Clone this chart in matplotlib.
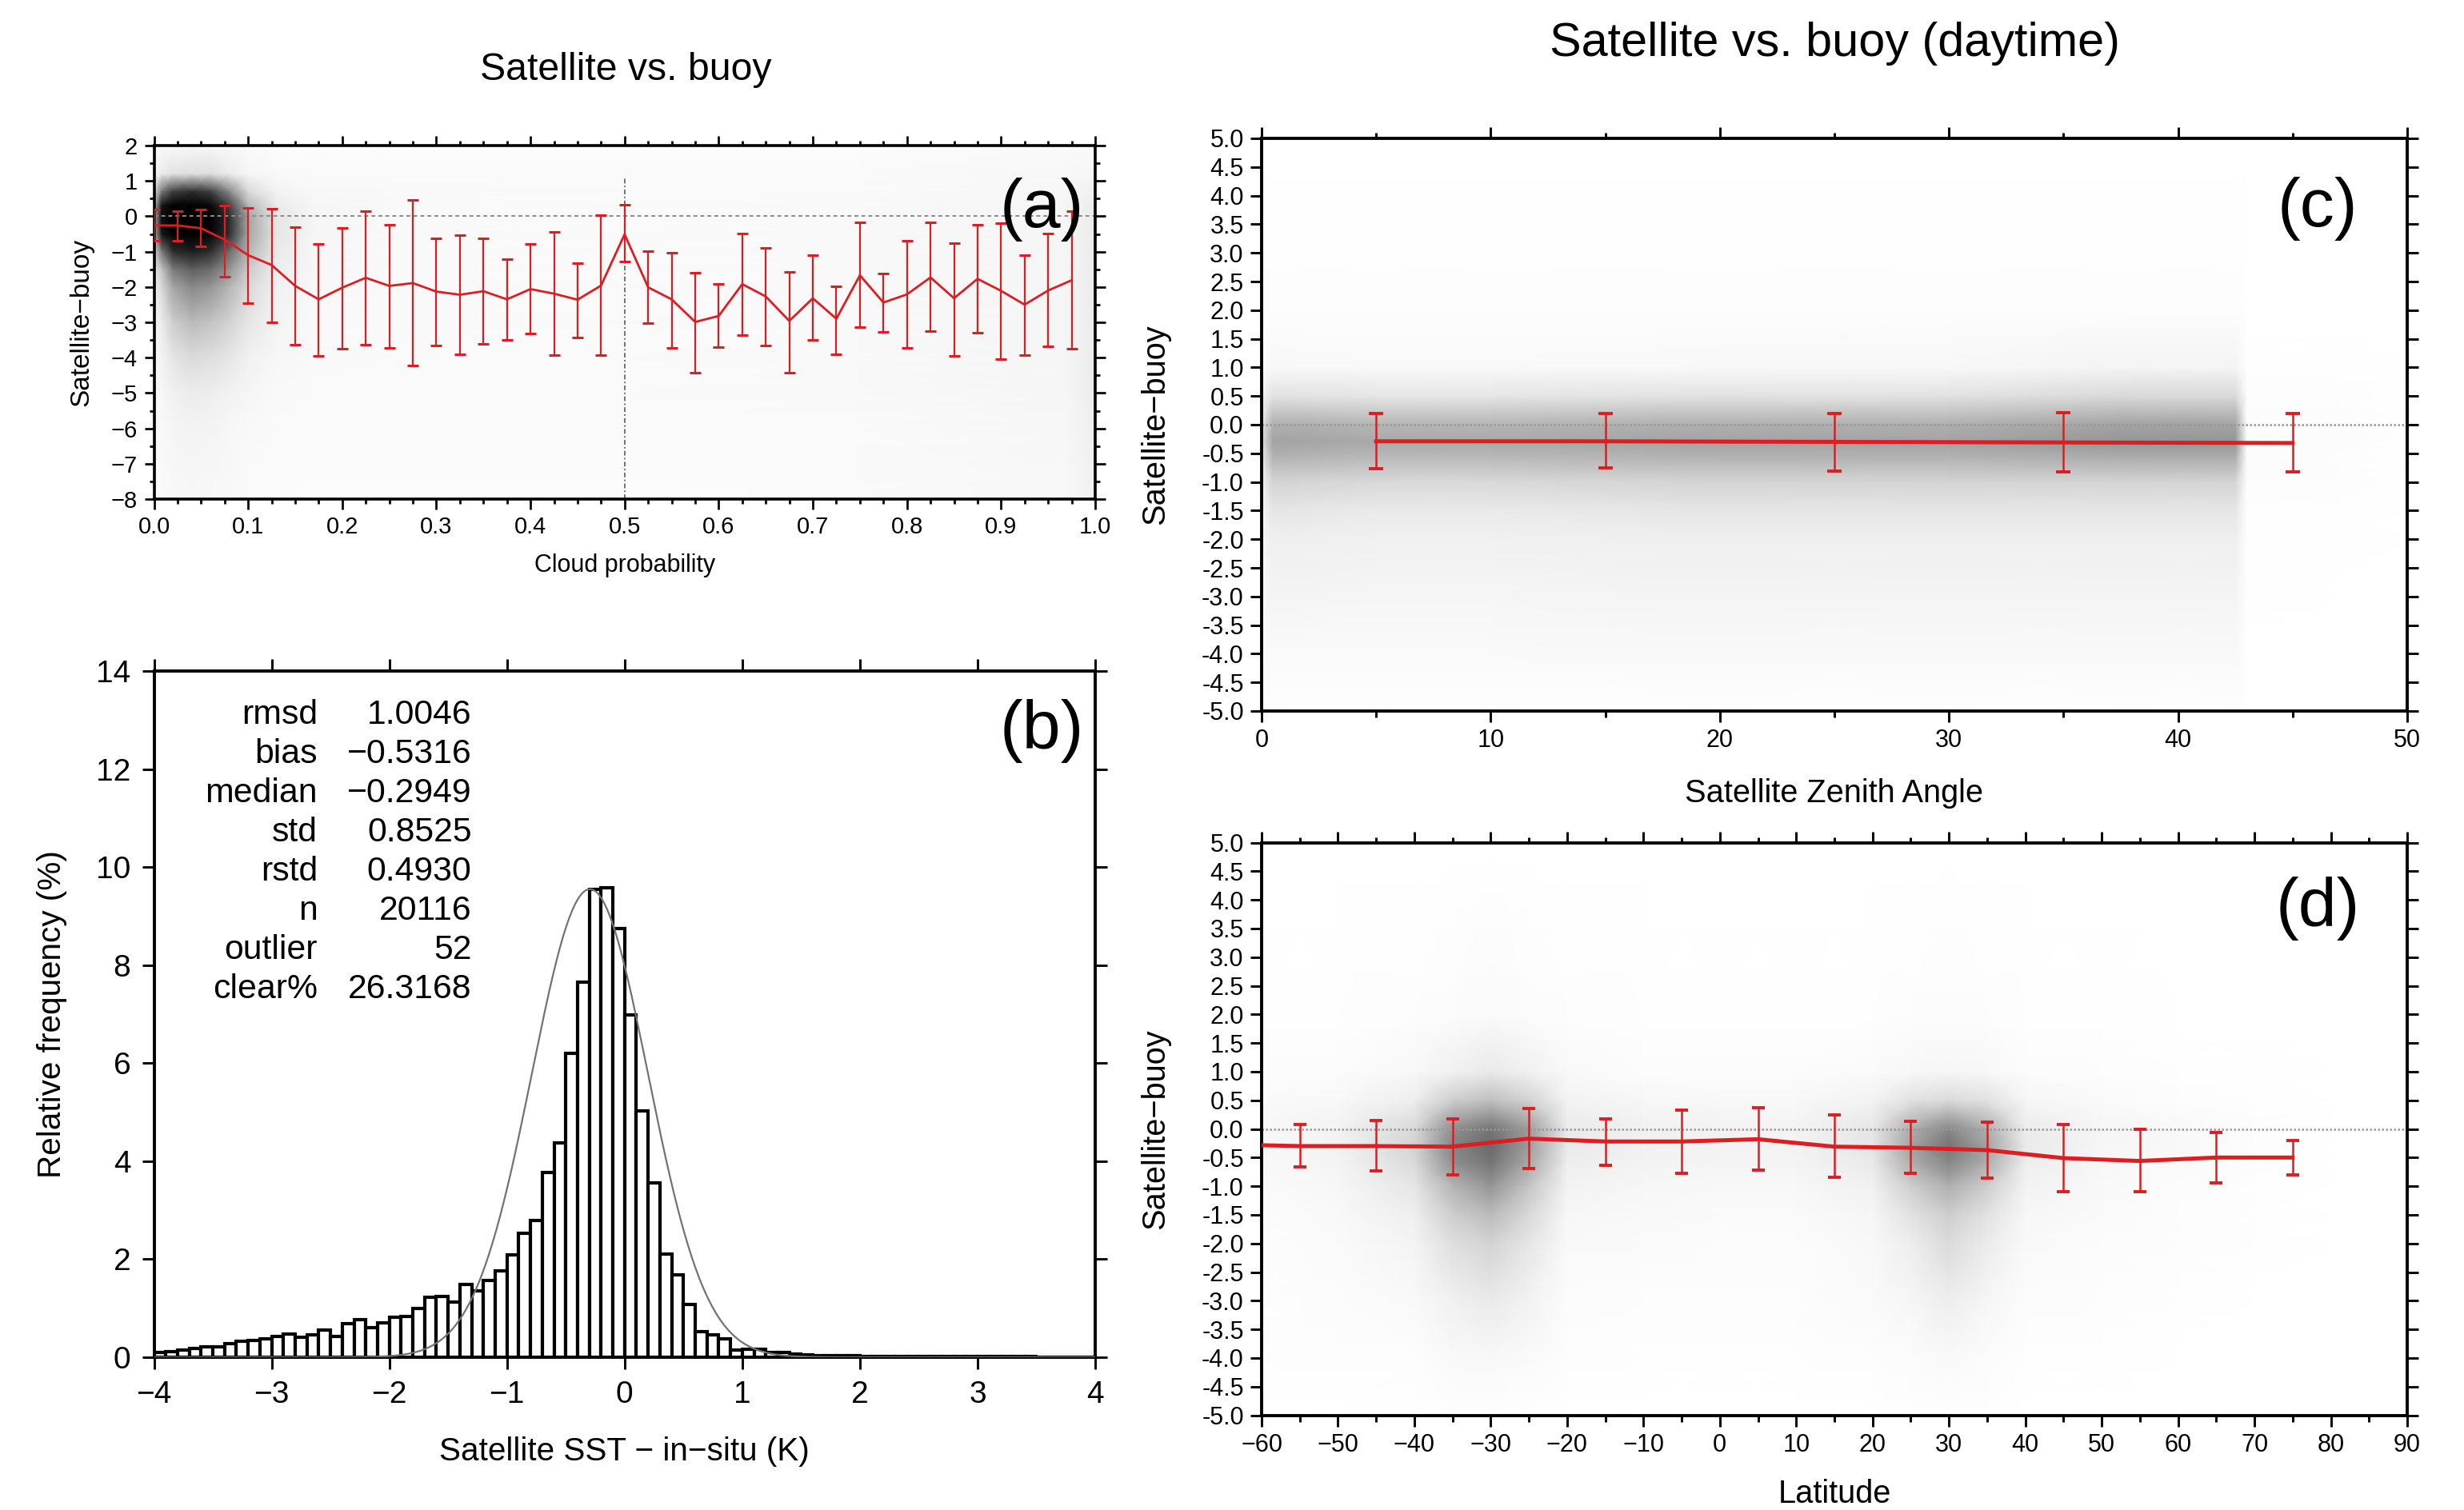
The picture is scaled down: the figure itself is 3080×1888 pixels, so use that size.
import numpy as np
import matplotlib
matplotlib.use("Agg")
import matplotlib.pyplot as plt
from matplotlib import font_manager

# ---------------- data ----------------
# (a) binned statistics vs cloud probability
cloud_x = [0.0, 0.025, 0.05, 0.075, 0.1, 0.125, 0.15, 0.175, 0.2, 0.225,
           0.25, 0.275, 0.3, 0.325, 0.35, 0.375, 0.4, 0.425, 0.45, 0.475,
           0.5, 0.525, 0.55, 0.575, 0.6, 0.625, 0.65, 0.675, 0.7, 0.725,
           0.75, 0.775, 0.8, 0.825, 0.85, 0.875, 0.9, 0.925, 0.95, 0.975]
cloud_mean = [-0.26, -0.26, -0.34, -0.66, -1.10, -1.38, -1.97, -2.35, -2.02, -1.74,
              -1.97, -1.89, -2.13, -2.22, -2.12, -2.35, -2.06, -2.19, -2.36, -1.96,
              -0.51, -2.01, -2.35, -2.99, -2.82, -1.92, -2.27, -2.96, -2.32, -2.90,
              -1.67, -2.44, -2.21, -1.73, -2.32, -1.77, -2.11, -2.50, -2.10, -1.81]
cloud_hi = [0.20, 0.15, 0.18, 0.31, 0.24, 0.22, -0.30, -0.78, -0.32, 0.15,
            -0.23, 0.47, -0.63, -0.54, -0.62, -1.21, -0.78, -0.44, -1.32, 0.03,
            0.33, -0.99, -1.03, -1.59, -1.92, -0.48, -0.90, -1.57, -1.11, -1.98,
            -0.17, -1.61, -0.69, -0.17, -0.76, -0.23, -0.19, -1.10, -0.49, 0.15]
cloud_lo = [-0.70, -0.70, -0.85, -1.71, -2.46, -3.01, -3.63, -3.94, -3.74, -3.63,
            -3.72, -4.22, -3.66, -3.91, -3.60, -3.50, -3.32, -3.92, -3.43, -3.92,
            -1.27, -3.02, -3.72, -4.42, -3.71, -3.36, -3.65, -4.42, -3.50, -3.91,
            -3.13, -3.27, -3.72, -3.26, -3.94, -3.30, -4.05, -3.93, -3.68, -3.75]
cloud_col_x = 0.5      # dense column of points at cloud probability 0.5
cloud_col_top = 1.1

# (a) scatter density (ink fraction) on a coarse node grid
dens_a_x = [0, 0.008, 0.02, 0.04, 0.06, 0.08, 0.1, 0.13, 0.17, 0.25, 0.5, 0.75, 0.97, 1.0]
dens_a_y = [2, 1.2, 0.7, 0.3, 0, -0.5, -1, -1.5, -2, -3, -4, -5, -6, -8]
dens_a = [
    [0.03, 0.04, 0.05, 0.06, 0.06, 0.05, 0.04, 0.03, 0.03, 0.03, 0.03, 0.03, 0.04, 0.05],
    [0.06, 0.15, 0.20, 0.22, 0.22, 0.15, 0.08, 0.05, 0.04, 0.04, 0.04, 0.04, 0.06, 0.08],
    [0.20, 0.60, 0.80, 0.85, 0.80, 0.55, 0.25, 0.10, 0.06, 0.05, 0.04, 0.04, 0.07, 0.12],
    [0.35, 0.92, 1.00, 1.00, 0.98, 0.80, 0.40, 0.15, 0.08, 0.05, 0.04, 0.05, 0.08, 0.15],
    [0.40, 0.95, 1.00, 1.00, 1.00, 0.85, 0.45, 0.18, 0.08, 0.05, 0.04, 0.05, 0.08, 0.15],
    [0.35, 0.92, 1.00, 1.00, 0.98, 0.85, 0.45, 0.18, 0.08, 0.05, 0.04, 0.05, 0.08, 0.15],
    [0.25, 0.60, 0.85, 0.90, 0.85, 0.65, 0.40, 0.16, 0.07, 0.05, 0.04, 0.05, 0.08, 0.15],
    [0.15, 0.35, 0.60, 0.70, 0.65, 0.50, 0.32, 0.14, 0.07, 0.05, 0.04, 0.05, 0.08, 0.15],
    [0.10, 0.25, 0.45, 0.55, 0.50, 0.40, 0.25, 0.12, 0.06, 0.05, 0.04, 0.05, 0.08, 0.15],
    [0.07, 0.15, 0.30, 0.38, 0.35, 0.28, 0.18, 0.09, 0.05, 0.05, 0.04, 0.05, 0.08, 0.15],
    [0.05, 0.10, 0.18, 0.24, 0.22, 0.18, 0.12, 0.07, 0.05, 0.04, 0.04, 0.05, 0.08, 0.15],
    [0.04, 0.07, 0.12, 0.15, 0.14, 0.11, 0.08, 0.05, 0.04, 0.04, 0.04, 0.05, 0.08, 0.15],
    [0.03, 0.05, 0.08, 0.10, 0.09, 0.07, 0.05, 0.04, 0.04, 0.04, 0.04, 0.04, 0.07, 0.13],
    [0.03, 0.04, 0.06, 0.07, 0.06, 0.05, 0.04, 0.04, 0.03, 0.03, 0.03, 0.04, 0.06, 0.12],
]

# (b) histogram (relative frequency %, bins of 0.1 K from -4 to 4)
hist_start, hist_width = -4.0, 0.1
hist_freq = [0.09, 0.11, 0.15, 0.18, 0.21, 0.22, 0.27, 0.33, 0.34, 0.38,
             0.43, 0.48, 0.40, 0.45, 0.55, 0.42, 0.68, 0.76, 0.61, 0.70,
             0.82, 0.83, 0.99, 1.22, 1.24, 1.12, 1.49, 1.35, 1.57, 1.76,
             2.09, 2.53, 2.79, 3.77, 4.38, 6.20, 7.66, 9.54, 9.58, 8.75,
             6.98, 5.02, 3.56, 2.11, 1.68, 1.08, 0.53, 0.45, 0.37, 0.14,
             0.16, 0.16, 0.10, 0.09, 0.07, 0.05, 0.04, 0.04, 0.03, 0.03,
             0.02, 0.02, 0.02, 0.02, 0.02, 0.02, 0.01, 0.01, 0.01, 0.01,
             0.01, 0.01, 0.01, 0.01, 0.01, 0.005, 0.005, 0.005, 0.005, 0.005]
stat_names = ["rmsd", "bias", "median", "std", "rstd", "n", "outlier", "clear%"]
stat_values = ["1.0046", "\u22120.5316", "\u22120.2949", "0.8525", "0.4930",
               "20116", "52", "26.3168"]
gauss_center = -0.2949   # median
gauss_sigma = 0.4930     # rstd
gauss_peak = 9.55

# (c) binned statistics vs satellite zenith angle
zen_x = [5, 15, 25, 35, 45]
zen_mean = [-0.29, -0.29, -0.30, -0.31, -0.32]
zen_hi = [0.19, 0.19, 0.20, 0.21, 0.20]
zen_lo = [-0.77, -0.75, -0.81, -0.82, -0.83]

dens_c_x = [0, 0.5, 5, 10, 20, 30, 38, 42.5, 43, 47, 50]
dens_c_y = [5, 2, 1, 0.5, 0, -0.3, -0.6, -1, -1.5, -2, -3, -4, -5]
dens_c = [
    [0.00, 0.00, 0.00, 0.00, 0.00, 0.00, 0.00, 0.00, 0.00, 0.00, 0.00],
    [0.01, 0.02, 0.02, 0.02, 0.02, 0.02, 0.02, 0.02, 0.00, 0.00, 0.00],
    [0.03, 0.06, 0.05, 0.05, 0.06, 0.06, 0.09, 0.09, 0.01, 0.01, 0.00],
    [0.09, 0.20, 0.18, 0.18, 0.20, 0.20, 0.25, 0.25, 0.02, 0.02, 0.00],
    [0.18, 0.42, 0.40, 0.40, 0.42, 0.42, 0.46, 0.46, 0.03, 0.03, 0.00],
    [0.20, 0.46, 0.44, 0.44, 0.46, 0.46, 0.50, 0.50, 0.03, 0.03, 0.00],
    [0.17, 0.40, 0.38, 0.38, 0.40, 0.40, 0.42, 0.42, 0.03, 0.02, 0.00],
    [0.12, 0.27, 0.25, 0.25, 0.27, 0.27, 0.27, 0.27, 0.02, 0.02, 0.00],
    [0.08, 0.18, 0.16, 0.16, 0.18, 0.18, 0.18, 0.18, 0.01, 0.01, 0.00],
    [0.06, 0.13, 0.12, 0.12, 0.13, 0.13, 0.13, 0.13, 0.01, 0.01, 0.00],
    [0.04, 0.09, 0.08, 0.08, 0.09, 0.09, 0.09, 0.09, 0.01, 0.00, 0.00],
    [0.02, 0.04, 0.04, 0.04, 0.05, 0.05, 0.05, 0.05, 0.00, 0.00, 0.00],
    [0.00, 0.01, 0.01, 0.01, 0.01, 0.01, 0.01, 0.01, 0.00, 0.00, 0.00],
]

# (d) binned statistics vs latitude
lat_x = [-65, -55, -45, -35, -25, -15, -5, 5, 15, 25, 35, 45, 55, 65, 75]
lat_mean = [-0.27, -0.30, -0.30, -0.31, -0.17, -0.22, -0.22, -0.18, -0.31, -0.33,
            -0.37, -0.51, -0.56, -0.50, -0.50]
lat_hi = [np.nan, 0.07, 0.15, 0.18, 0.36, 0.18, 0.33, 0.37, 0.24, 0.13,
          0.12, 0.08, -0.01, -0.06, -0.20]
lat_lo = [np.nan, -0.67, -0.73, -0.80, -0.69, -0.64, -0.78, -0.72, -0.85, -0.78,
          -0.86, -1.09, -1.10, -0.94, -0.81]

dens_d_x = [-60, -50, -40, -35, -30, -25, -20, -10, 0, 10, 20, 25, 30, 35, 40, 50, 60, 70, 80, 90]
dens_d_y = [5, 2, 1, 0.5, 0, -0.3, -0.6, -1, -1.5, -2, -3, -4, -5]
dens_d = [
    [0.00, 0.00, 0.00, 0.00, 0.00, 0.00, 0.00, 0.00, 0.00, 0.00, 0.00, 0.00, 0.00, 0.00, 0.00, 0.00, 0.00, 0.00, 0.00, 0.00],
    [0.01, 0.01, 0.02, 0.03, 0.04, 0.03, 0.02, 0.01, 0.01, 0.01, 0.01, 0.02, 0.03, 0.02, 0.01, 0.01, 0.00, 0.00, 0.00, 0.00],
    [0.02, 0.03, 0.06, 0.12, 0.16, 0.12, 0.05, 0.03, 0.03, 0.03, 0.04, 0.06, 0.08, 0.06, 0.03, 0.02, 0.01, 0.01, 0.00, 0.00],
    [0.04, 0.06, 0.14, 0.30, 0.36, 0.28, 0.10, 0.07, 0.06, 0.06, 0.10, 0.20, 0.24, 0.20, 0.08, 0.04, 0.02, 0.01, 0.00, 0.00],
    [0.06, 0.10, 0.25, 0.52, 0.62, 0.48, 0.16, 0.12, 0.10, 0.10, 0.18, 0.42, 0.55, 0.42, 0.15, 0.08, 0.05, 0.02, 0.00, 0.00],
    [0.06, 0.10, 0.27, 0.56, 0.66, 0.48, 0.16, 0.12, 0.10, 0.10, 0.18, 0.46, 0.62, 0.46, 0.16, 0.08, 0.05, 0.02, 0.00, 0.00],
    [0.05, 0.09, 0.24, 0.52, 0.62, 0.44, 0.14, 0.10, 0.09, 0.09, 0.16, 0.42, 0.55, 0.42, 0.14, 0.07, 0.04, 0.02, 0.00, 0.00],
    [0.04, 0.07, 0.18, 0.40, 0.50, 0.34, 0.10, 0.07, 0.06, 0.06, 0.12, 0.30, 0.42, 0.30, 0.10, 0.05, 0.03, 0.01, 0.00, 0.00],
    [0.03, 0.05, 0.13, 0.30, 0.38, 0.25, 0.07, 0.05, 0.04, 0.04, 0.08, 0.20, 0.30, 0.20, 0.07, 0.04, 0.02, 0.01, 0.00, 0.00],
    [0.02, 0.04, 0.09, 0.22, 0.28, 0.18, 0.05, 0.04, 0.03, 0.03, 0.06, 0.14, 0.24, 0.15, 0.05, 0.03, 0.02, 0.01, 0.00, 0.00],
    [0.01, 0.03, 0.05, 0.12, 0.16, 0.10, 0.03, 0.02, 0.02, 0.02, 0.04, 0.08, 0.14, 0.08, 0.03, 0.02, 0.01, 0.00, 0.00, 0.00],
    [0.01, 0.02, 0.02, 0.05, 0.06, 0.04, 0.02, 0.01, 0.01, 0.01, 0.02, 0.03, 0.05, 0.03, 0.01, 0.01, 0.00, 0.00, 0.00, 0.00],
    [0.00, 0.00, 0.01, 0.01, 0.01, 0.01, 0.00, 0.00, 0.00, 0.00, 0.00, 0.01, 0.01, 0.01, 0.00, 0.00, 0.00, 0.00, 0.00, 0.00],
]

# ---------------- styling ----------------
names = {f.name for f in font_manager.fontManager.ttflist}
REG = "Liberation Sans" if "Liberation Sans" in names else "DejaVu Sans"
NARROW = "Liberation Sans Narrow" if "Liberation Sans Narrow" in names else REG
plt.rcParams["font.family"] = [REG, "DejaVu Sans"]
plt.rcParams["axes.unicode_minus"] = True

RED = "#dc1e22"
W, H = 3080, 1888
fig = plt.figure(figsize=(W / 200, H / 200), dpi=200)


def box(l, r, t, b):
    return [l / W, 1 - b / H, (r - l) / W, (b - t) / H]


def style(ax, lw=1.3, maj=4.8, mnr=2.6, lsize=10.5, fam=None, pad=3):
    for s in ax.spines.values():
        s.set_linewidth(lw)
    ax.tick_params(which="both", direction="out", top=True, right=True,
                   labeltop=False, labelright=False, width=lw * 0.75)
    ax.tick_params(which="major", length=maj, labelsize=lsize, pad=pad,
                   labelfontfamily=fam or NARROW)
    ax.tick_params(which="minor", length=mnr)


def density(ax, xs, ys, d):
    X, Y = np.meshgrid(np.asarray(xs, float), np.asarray(ys, float))
    ax.pcolormesh(X, Y, np.asarray(d, float), shading="gouraud", cmap="Greys",
                  vmin=0, vmax=1, zorder=0, rasterized=True)


def set_labels(ax, xl, yl, xoff, yoff, xs, ys):
    ax.set_xlabel(xl, fontsize=xs)
    ax.set_ylabel(yl, fontsize=ys)
    ax.xaxis.set_label_coords(0.5, xoff)
    ax.yaxis.set_label_coords(yoff, 0.5)
    ax.xaxis.label.set_verticalalignment("center")
    ax.yaxis.label.set_verticalalignment("center")


# ---------------- (a) ----------------
ax_a = fig.add_axes(box(192.5, 1369, 182, 624))
density(ax_a, dens_a_x, dens_a_y, dens_a)
ax_a.axhline(0, color="0.55", lw=0.7, ls=(0, (2.5, 2)), zorder=1)
ax_a.vlines(cloud_col_x, -8, cloud_col_top, color="0.45", lw=0.7,
            ls=(0, (3, 1.5, 1, 1.5)), zorder=1)
ca_m = np.array(cloud_mean)
ax_a.errorbar(cloud_x, ca_m, yerr=[ca_m - np.array(cloud_lo), np.array(cloud_hi) - ca_m],
              color=RED, lw=1.0, elinewidth=0.8, capsize=2.5, capthick=1.1, zorder=3)
ax_a.set_xlim(0, 1)
ax_a.set_ylim(-8, 2)
ax_a.set_xticks(np.arange(0, 1.01, 0.1))
ax_a.set_xticks(np.arange(0, 1.001, 0.025), minor=True)
ax_a.set_yticks(np.arange(-8, 2.1, 1))
ax_a.set_yticks(np.arange(-8, 2.1, 0.5), minor=True)
ax_a.xaxis.set_major_formatter(matplotlib.ticker.FormatStrFormatter("%.1f"))
style(ax_a, lw=1.3, maj=4.5, mnr=2.3, lsize=10.5)
set_labels(ax_a, "Cloud probability", "Satellite\u2212buoy", -0.188, -0.077, 11, 12)
ax_a.text(0.988, 0.82, "(a)", transform=ax_a.transAxes, ha="right", va="center",
          fontsize=31)

# ---------------- (b) ----------------
ax_b = fig.add_axes(box(192.5, 1369, 839, 1697))
freq = np.array(hist_freq)
lefts = hist_start + hist_width * np.arange(len(freq))
ax_b.bar(lefts, freq, width=hist_width, align="edge", facecolor="white",
         edgecolor="black", linewidth=1.5, zorder=2)
gx = np.linspace(-4, 4, 801)
gy = gauss_peak * np.exp(-0.5 * ((gx - gauss_center) / gauss_sigma) ** 2)
ax_b.plot(gx, gy, color="0.45", lw=0.8, zorder=3)
ax_b.set_xlim(-4, 4)
ax_b.set_ylim(0, 14)
ax_b.set_xticks(np.arange(-4, 4.1, 1))
ax_b.set_yticks(np.arange(0, 14.1, 2))
style(ax_b, lw=1.4, maj=5.5, mnr=3, lsize=14, fam=REG, pad=5)
set_labels(ax_b, "Satellite SST \u2212 in\u2212situ (K)", "Relative frequency (%)",
           -0.1375, -0.108, 14.6, 14.6)
for i, (nm, val) in enumerate(zip(stat_names, stat_values)):
    yy = 13.1 - 0.8 * i
    ax_b.text(-2.61, yy, nm, ha="right", va="center", fontsize=15.4)
    ax_b.text(-1.30, yy, val, ha="right", va="center", fontsize=15.4)
ax_b.text(0.988, 0.913, "(b)", transform=ax_b.transAxes, ha="right", va="center",
          fontsize=31)

# ---------------- (c) ----------------
ax_c = fig.add_axes(box(1577, 3009, 173, 889))
density(ax_c, dens_c_x, dens_c_y, dens_c)
ax_c.axhline(0, color="0.6", lw=0.9, ls=(0, (1, 1)), zorder=1)
zm = np.array(zen_mean)
ax_c.errorbar(zen_x, zm, yerr=[zm - np.array(zen_lo), np.array(zen_hi) - zm],
              color=RED, lw=1.8, elinewidth=0.9, capsize=3.4, capthick=1.4, zorder=3)
ax_c.set_xlim(0, 50)
ax_c.set_ylim(-5, 5)
ax_c.set_xticks(np.arange(0, 50.1, 10))
ax_c.set_xticks(np.arange(0, 50.1, 5), minor=True)
ax_c.set_yticks(np.arange(-5, 5.01, 0.5))
ax_c.yaxis.set_major_formatter(matplotlib.ticker.FormatStrFormatter("%.1f"))
style(ax_c, lw=1.4, maj=5.0, mnr=2.7, lsize=11)
set_labels(ax_c, "Satellite Zenith Angle", "Satellite\u2212buoy", -0.144, -0.093, 14.3, 14.3)
ax_c.text(0.957, 0.877, "(c)", transform=ax_c.transAxes, ha="right", va="center",
          fontsize=31)

# ---------------- (d) ----------------
ax_d = fig.add_axes(box(1577, 3009, 1053.5, 1769.5))
density(ax_d, dens_d_x, dens_d_y, dens_d)
ax_d.axhline(0, color="0.6", lw=0.9, ls=(0, (1, 1)), zorder=1)
lm = np.array(lat_mean)
ax_d.errorbar(lat_x, lm, yerr=[lm - np.array(lat_lo), np.array(lat_hi) - lm],
              color=RED, lw=1.8, elinewidth=0.9, capsize=3.0, capthick=1.4, zorder=3)
ax_d.set_xlim(-60, 90)
ax_d.set_ylim(-5, 5)
ax_d.set_xticks(np.arange(-60, 90.1, 10))
ax_d.set_xticks(np.arange(-60, 90.1, 5), minor=True)
ax_d.set_yticks(np.arange(-5, 5.01, 0.5))
ax_d.yaxis.set_major_formatter(matplotlib.ticker.FormatStrFormatter("%.1f"))
style(ax_d, lw=1.4, maj=5.0, mnr=2.7, lsize=11)
set_labels(ax_d, "Latitude", "Satellite\u2212buoy", -0.138, -0.093, 14.3, 14.3)
ax_d.text(0.959, 0.885, "(d)", transform=ax_d.transAxes, ha="right", va="center",
          fontsize=31)

# ---------------- titles ----------------
fig.text(782 / W, 1 - 88 / H, "Satellite vs. buoy", ha="center", va="center",
         fontsize=17.4)
fig.text(2293 / W, 1 - 55 / H, "Satellite vs. buoy (daytime)", ha="center",
         va="center", fontsize=21.4)

fig.savefig("out.png", dpi=200)
